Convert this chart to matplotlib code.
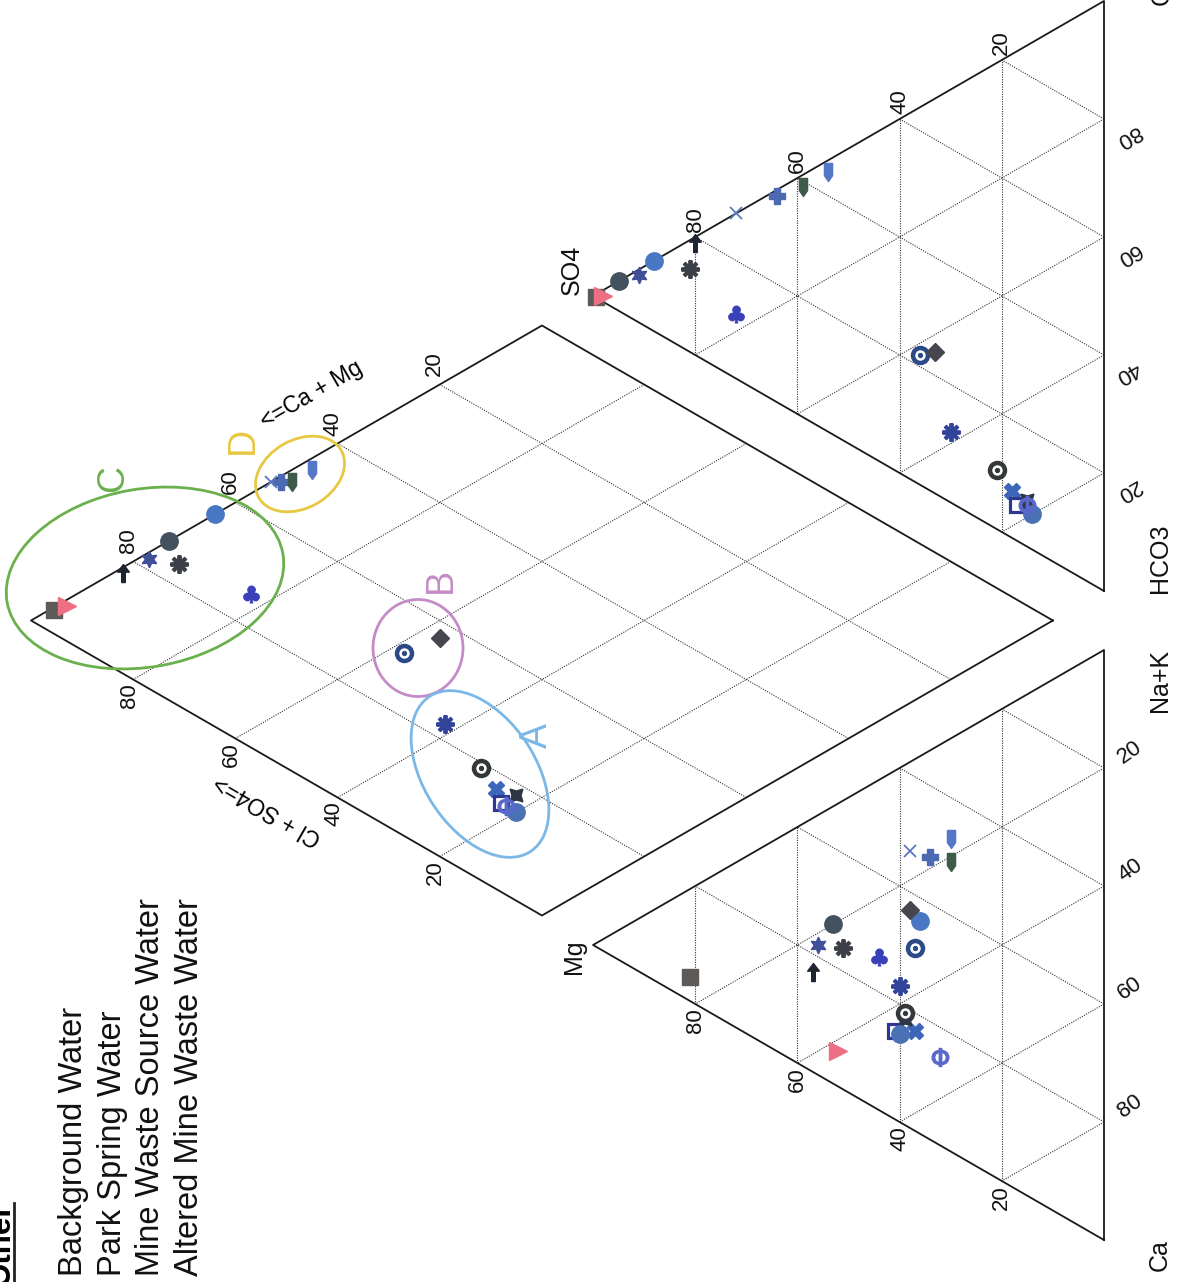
import numpy as np
import matplotlib.pyplot as plt
from matplotlib.patches import Ellipse
from matplotlib.transforms import Affine2D

plt.rcParams['font.family'] = ['Liberation Sans', 'DejaVu Sans']

# ---- sample chemistry, % of meq/L ----
ca   = [15, 42, 26, 22, 20, 25, 28, 30, 18, 15, 21, 17, 32, 25, 37, 42, 46, 44, 43, 45, 53]
mg   = [81, 52, 57, 56, 53, 51, 36, 44, 34, 38, 30, 30, 37, 38, 40, 39, 37, 41, 39, 40, 32]
nak  = [4, 6, 17, 22, 27, 24, 36, 26, 48, 47, 49, 53, 31, 37, 23, 19, 17, 15, 18, 15, 15]
hco3 = [0.5, 1, 1, 1, 0, 5, 0, 17, 1, 0, 2, 2, 42, 43, 58, 69, 74, 77, 77, 80, 78]
so4  = [99.5, 98, 80, 91, 95, 81, 88, 72, 64, 72, 59, 54, 36, 33, 30, 21, 18, 17, 15, 14, 15]
cl   = [0, 1, 19, 8, 5, 14, 12, 11, 35, 28, 39, 44, 22, 24, 12, 10, 8, 6, 8, 6, 7]

kinds = ['square', 'tri', 'arrow', 'star6', 'circle', 'aster', 'circle', 'club', 'plus',
         'thinx', 'bullet', 'bullet', 'target', 'diamond', 'aster', 'target', 'bigx',
         'osquare', 'pin', 'circle', 'phi']
colors = ['#5e5a58', '#ec6f84', '#1e2530', '#3f4f9a', '#44525f', '#3b4046', '#4a77c4',
          '#3a40b8', '#4c6ab2', '#5a78c0', '#3d5b48', '#5577c8', '#2c4a88', '#46464e',
          '#31449a', '#343838', '#3d66bb', '#2e3892', '#2e3845', '#4b71b5', '#5a68cc']

groups = ['Background Water', 'Park Spring Water', 'Mine Waste Source Water',
          'Altered Mine Waste Water']
ticks = [20, 40, 60, 80]

# clusters drawn on the diamond: label, center (px), w, h, angle, colour
clusters = [('C', (145, 704), 280, 178, 10, '#6ab04c'),
            ('D', (300, 808), 95, 68, 30, '#e8c840'),
            ('B', (418, 634), 90, 97, 0, '#c58bc8'),
            ('A', (480, 508), 185, 112, -57, '#7ab8e8')]
cluster_lbl = {'C': (113, 804), 'D': (243, 842), 'B': (441, 702), 'A': (537, 547)}

# ---- geometry: standard piper coords, rotated 90 deg onto the page ----
S = 590.0
G = 0.1
H = np.sqrt(3) / 2

fig = plt.figure(figsize=(11.88, 12.82), dpi=100)
ax = fig.add_axes([0, 0, 1, 1])
ax.set_xlim(0, 1188)
ax.set_ylim(0, 1282)
ax.axis('off')
tr = Affine2D().scale(S).rotate_deg(90).translate(1104, 42) + ax.transData


def cat_xy(na, m):
    return na / 100 + m / 200, H * m / 100


def an_xy(c, s):
    return 1 + G + c / 100 + s / 200, H * s / 100


def dia_xy(p, q):
    return 1 + G / 2 + 0.5 * (p + q - 1), H * G + H * (1 - p + q)


def seg(p0, p1, **kw):
    ax.plot([p0[0], p1[0]], [p0[1], p1[1]], transform=tr, **kw)


grid_kw = dict(color='#333333', lw=0.8, ls=(0, (1, 1.2)), zorder=1)
for k in [0.2, 0.4, 0.6, 0.8]:
    for off in (0, 1 + G):
        seg((off + k / 2, H * k), (off + 1 - k / 2, H * k), **grid_kw)
        seg((off + k, 0), (off + k + (1 - k) / 2, H * (1 - k)), **grid_kw)
        seg((off + 1 - k, 0), (off + (1 - k) / 2, H * (1 - k)), **grid_kw)
    seg(dia_xy(k, 0), dia_xy(k, 1), **grid_kw)
    seg(dia_xy(0, k), dia_xy(1, k), **grid_kw)

line_kw = dict(color='#1a1a1a', lw=1.3, zorder=2)
for off in (0, 1 + G):
    xs = [off, off + 1, off + 0.5, off]
    ys = [0, 0, H, 0]
    ax.plot(xs, ys, transform=tr, **line_kw)
d = [dia_xy(1, 0), dia_xy(0, 0), dia_xy(0, 1), dia_xy(1, 1), dia_xy(1, 0)]
ax.plot([p[0] for p in d], [p[1] for p in d], transform=tr, **line_kw)

# tick labels
tk = dict(fontsize=16, color='#111111', xycoords=tr, textcoords='offset pixels')
for t in ticks:
    f = t / 100
    ax.annotate(str(t), cat_xy(0, t), xytext=(0, -4), rotation=90, ha='center', va='top', **tk)
    ax.annotate(str(t), (1 - f, 0), xytext=(26, 16), rotation=35, ha='center', va='center', **tk)
    ax.annotate(str(t), an_xy(100 - t, t), xytext=(0, 5), rotation=90, ha='center', va='bottom', **tk)
    ax.annotate(str(t), (1 + G + f, 0), xytext=(24, -17), rotation=210, ha='center', va='center', **tk)
    ax.annotate(str(t), dia_xy(1 - f, 1), xytext=(-5, 8), rotation=90, ha='center', va='bottom', **tk)
    ax.annotate(str(t), dia_xy(0, f), xytext=(-4, -4), rotation=90, ha='center', va='top', **tk)

# corner names
lk = dict(fontsize=18, color='#111111', xycoords=tr, textcoords='offset pixels',
          rotation=90, ha='center', va='center')
ax.annotate('Mg', cat_xy(0, 100), xytext=(-19, -12), **lk)
ax.annotate('Ca', (0, 0), xytext=(56, -15), **lk)
ax.annotate('Na+K', (1, 0), xytext=(56, -30), **lk)
ax.annotate('HCO3', (1 + G, 0), xytext=(56, 33), **lk)
ax.annotate('SO4', an_xy(0, 100), xytext=(-21, 26), **lk)
lk['va'] = 'bottom'
ax.annotate('Cl', (2 + G, 0), xytext=(58, -4), **lk)

ax.text(312, 1282 - 395, '<=Ca + Mg', fontsize=16.5, rotation=30, ha='center', va='center')
ax.text(268, 1282 - 810, 'Cl + SO4=>', fontsize=16.5, rotation=150, ha='center', va='center')

# clusters
for name, c, w, h, a, col in clusters:
    ax.add_patch(Ellipse(c, w, h, angle=a, fill=False, ec=col, lw=2, zorder=4))
    ax.text(*cluster_lbl[name], name, fontsize=27, color=col, rotation=90,
            ha='center', va='center')

# markers
arrow_v = [(0, 1), (0.65, 0.15), (0.2, 0.15), (0.2, -1), (-0.2, -1), (-0.2, 0.15),
           (-0.65, 0.15), (0, 1)]
bullet_v = [(-0.45, 1), (0.45, 1), (0.45, -0.35), (0, -1), (-0.45, -0.35), (-0.45, 1)]
styles = {
    'square': dict(marker='s', ms=11.5),
    'tri': dict(marker='>', ms=13),
    'arrow': dict(marker=arrow_v, ms=13),
    'star6': dict(marker=(6, 1, 0), ms=12),
    'circle': dict(marker='o', ms=12.5),
    'aster': dict(marker=(8, 2, 0), ms=13, mew=2.8),
    'club': dict(marker='$\u2663$', ms=12),
    'plus': dict(marker='P', ms=12),
    'thinx': dict(marker='x', ms=9, mew=1.3),
    'bullet': dict(marker=bullet_v, ms=13),
    'diamond': dict(marker='D', ms=9.5),
    'bigx': dict(marker='X', ms=12),
    'osquare': dict(marker='s', ms=10, mfc='white', mew=2.3),
    'pin': dict(marker=(4, 1, 45), ms=13),
    'phi': dict(marker='$\\Phi$', ms=13),
}


def mark(pt, kind, col):
    x, y = pt
    if kind == 'target':
        ax.plot([x], [y], 'o', ms=13, color=col, transform=tr, zorder=5)
        ax.plot([x], [y], 'o', ms=6.5, color='white', transform=tr, zorder=6)
        ax.plot([x], [y], 'o', ms=2.8, color=col, transform=tr, zorder=7)
        return
    kw = dict(color=col, mec=col, ls='none', zorder=5)
    kw.update(styles[kind])
    ax.plot([x], [y], transform=tr, **kw)


for i in range(len(ca)):
    tot_c = ca[i] + mg[i] + nak[i]
    tot_a = hco3[i] + so4[i] + cl[i]
    p = nak[i] / tot_c
    q = (so4[i] + cl[i]) / tot_a
    mark(cat_xy(100 * p, 100 * mg[i] / tot_c), kinds[i], colors[i])
    mark(an_xy(100 * cl[i] / tot_a, 100 * so4[i] / tot_a), kinds[i], colors[i])
    mark(dia_xy(p, q), kinds[i], colors[i])

# legend text
for j, g in enumerate(groups):
    ax.text(58 + 38.5 * j, 6, g, fontsize=23.5, rotation=90, ha='left', va='bottom',
            color='#111111')
ax.text(17, 1282 - 1203, 'Other', fontsize=22.5, fontweight='bold', rotation=90,
        ha='right', va='top')
ax.plot([14, 14], [0, 1282 - 1203], color='#222222', lw=2)

fig.savefig('out.png', dpi=100)
